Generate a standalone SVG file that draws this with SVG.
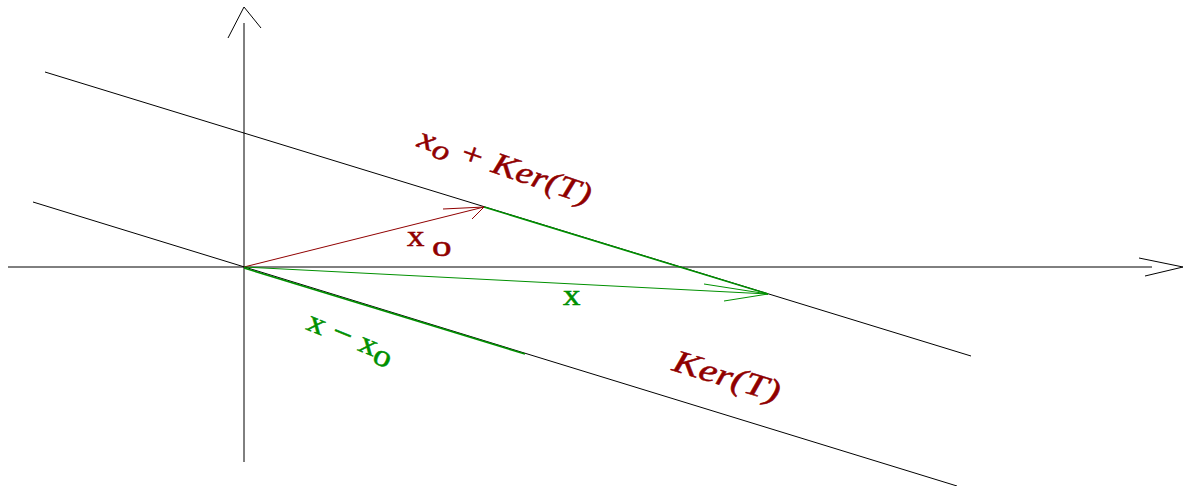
<svg xmlns="http://www.w3.org/2000/svg" width="1186" height="486" viewBox="0 0 1186 486">
<style>
.blk{stroke:#000;stroke-width:1;fill:none}
.red{stroke:#900000;stroke-width:1;fill:none}
.grn{stroke:#009000;stroke-width:1;fill:none}
.grnb{stroke:#009000;stroke-width:1.6;fill:none}
.lr{font-family:"Liberation Serif","Times New Roman",serif;fill:#900000;stroke:#900000;stroke-width:0.5}
.lg{font-family:"Liberation Serif","Times New Roman",serif;fill:#009000;stroke:#009000;stroke-width:0.5}
</style>
<rect width="1186" height="486" fill="#fff"/>
<g id="connectors">
<g id="axes">
<line class="blk" x1="8" y1="267" x2="1152" y2="267"/>
<polyline class="blk" points="1139,258 1183,267 1145,276"/>
<line class="blk" x1="244" y1="462" x2="244" y2="23"/>
<polyline class="blk" points="228,38 244,7 261,28"/>
</g>
<g id="lines">
<line class="blk" x1="45" y1="72" x2="971" y2="356"/>
<line class="blk" x1="33" y1="202" x2="957" y2="486"/>
</g>
<g id="vec-x0">
<line class="red" x1="244" y1="267" x2="484" y2="207"/>
<polyline class="red" points="443,209 484,207 472,219"/>
</g>
<g id="vec-x">
<line class="grn" x1="244" y1="267" x2="768" y2="294"/>
<polyline class="grn" points="704,284 768,294 724,301"/>
</g>
<g id="seg-upper">
<line class="grnb" x1="484" y1="207" x2="768" y2="294"/>
</g>
<g id="seg-lower">
<line class="grnb" x1="244" y1="268" x2="525" y2="354"/>
</g>
</g>
<g id="label-x0-ker">
<text class="lr" font-size="31" font-style="italic" transform="translate(416,146) rotate(19) scale(1.22,1)">x<tspan font-size="28" dy="5">o</tspan><tspan dy="-5"> + Ker(T)</tspan></text>
</g>
<g id="label-x0">
<text class="lr" font-size="29" transform="translate(407,246) scale(1.2,1)">x</text>
<text class="lr" font-size="29" transform="translate(432,256) scale(1.35,1)">o</text>
</g>
<g id="label-x">
<text class="lg" font-size="29" transform="translate(563,305) scale(1.2,1)">x</text>
</g>
<g id="label-x-minus-x0">
<text class="lg" font-size="31" transform="translate(305,329) rotate(22) scale(1.15,1)">x − x<tspan dy="6">o</tspan></text>
</g>
<g id="label-ker">
<text class="lr" font-size="32" font-style="italic" transform="translate(671,370) rotate(17) scale(1.27,1)">Ker(T)</text>
</g>
</svg>
